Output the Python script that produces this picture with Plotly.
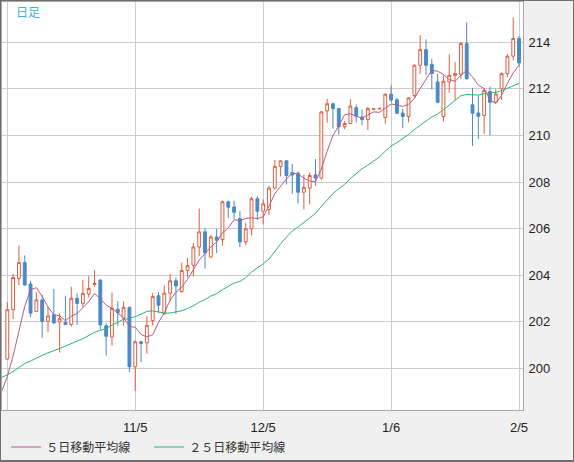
import plotly.graph_objects as go
import pandas as pd

# ---- data (daily candles, index 0 .. 88) ----
opens = [200.40, 202.52, 203.86, 204.54, 203.62, 202.45, 202.94, 202.02, 202.30, 201.99,
         201.98, 201.89, 203.01, 202.79, 203.19, 203.60, 203.79, 201.83, 201.35, 202.54,
         202.16, 202.62, 200.07, 201.14, 201.10, 202.05, 203.12, 202.34, 203.23, 203.76,
         203.30, 204.20, 204.42, 205.21, 205.86, 204.78, 205.64, 205.53, 207.15, 206.93,
         206.43, 205.43, 205.99, 207.28, 206.75, 206.82, 207.74, 208.67, 208.91, 208.40,
         208.38, 207.56, 207.74, 208.31, 208.17, 211.05, 211.36, 211.15, 210.37, 210.51,
         211.19, 210.79, 210.68, 211.12, 211.14, 210.77, 211.77, 211.53, 210.96, 210.81,
         211.71, 213.01, 213.68, 213.05, 212.29, 210.81, 212.29, 212.58, 212.62, 213.94,
         211.31, 210.96, 210.85, 211.88, 211.42, 212.00, 212.65, 213.40, 214.16]

highs = [202.84, 204.07, 205.27, 204.85, 203.76, 203.27, 203.15, 202.66, 203.41, 202.37,
         203.12, 203.50, 203.22, 203.79, 203.96, 204.21, 203.82, 201.94, 203.25, 202.89,
         202.87, 202.65, 201.20, 201.17, 202.24, 203.23, 203.27, 203.56, 204.06, 203.90,
         204.54, 204.75, 205.38, 206.86, 206.03, 205.74, 205.99, 207.20, 207.20, 207.20,
         206.77, 206.24, 207.36, 207.39, 207.25, 207.84, 208.95, 208.95, 208.93, 208.78,
         208.45, 208.31, 208.41, 208.98, 211.05, 211.57, 211.40, 211.18, 210.61, 211.55,
         211.33, 211.11, 211.22, 211.16, 211.18, 211.80, 212.14, 211.61, 211.14, 211.65,
         213.05, 214.30, 214.12, 213.29, 212.65, 212.58, 213.48, 213.15, 214.00, 214.85,
         212.04, 211.71, 212.03, 212.10, 212.00, 212.70, 213.48, 215.06, 214.26]

lows = [200.37, 202.12, 203.58, 203.55, 202.20, 202.42, 201.31, 201.57, 201.92, 200.68,
        201.86, 201.80, 201.87, 202.65, 203.05, 203.50, 201.66, 200.55, 200.98, 201.83,
        201.83, 199.84, 199.04, 200.27, 200.63, 201.84, 202.38, 202.30, 202.88, 202.34,
        203.25, 203.92, 203.95, 204.81, 204.28, 204.75, 204.95, 205.27, 206.46, 206.42,
        205.21, 205.28, 205.71, 206.37, 206.18, 206.58, 207.67, 208.24, 207.89, 207.49,
        207.08, 206.82, 207.04, 207.84, 208.10, 210.55, 210.30, 210.04, 210.27, 210.48,
        210.55, 210.44, 210.23, 211.10, 211.12, 210.50, 211.42, 210.92, 210.32, 210.56,
        211.61, 212.65, 212.58, 211.97, 211.38, 210.60, 211.83, 211.53, 212.43, 212.40,
        209.55, 209.84, 210.06, 210.01, 211.35, 211.52, 212.50, 213.22, 212.96]

closes = [202.52, 203.90, 204.54, 203.58, 202.37, 202.94, 202.02, 202.25, 201.95, 202.13,
          201.88, 203.01, 202.79, 203.22, 203.43, 203.65, 201.87, 201.38, 202.58, 202.40,
          202.62, 200.07, 201.14, 201.07, 201.85, 203.09, 202.71, 203.23, 203.76, 203.54,
          204.20, 204.41, 205.21, 205.86, 204.95, 205.64, 205.50, 207.15, 206.92, 206.70,
          205.43, 205.99, 207.28, 206.75, 207.06, 207.74, 208.67, 208.91, 208.28, 208.30,
          207.56, 207.77, 208.28, 208.17, 211.01, 211.36, 211.15, 210.37, 210.51, 211.26,
          210.82, 210.68, 211.15, 211.14, 211.16, 211.77, 211.52, 210.95, 210.81, 211.61,
          213.01, 213.68, 213.01, 212.65, 211.42, 212.32, 212.58, 212.65, 213.94, 212.43,
          210.95, 210.82, 211.93, 211.42, 211.78, 212.65, 213.40, 214.16, 213.11]

# closes before the visible window (estimated from the moving-average lines)
prior_closes = [199.90, 200.30, 199.90, 199.50, 199.80, 199.60, 199.20, 199.60, 199.90, 199.50,
                199.30, 200.00, 200.50, 200.60, 200.20, 200.05, 199.80, 199.40, 199.10, 199.30,
                199.20, 199.45, 198.89, 198.63, 198.76]

tick_index = [0, 22, 44, 66, 88]
tick_labels = ['', '11/5', '12/5', '1/6', '2/5']
ma_periods = [5, 25]
ma_names = ['５日移動平均線', '２５日移動平均線']
ma_colors = ['#b85a8c', '#2cb371']
title_text = '日足'

UP = '#dc5f3c'
DOWN = '#4a8ac6'

x = list(range(len(closes)))
all_c = pd.Series(prior_closes + closes)
offset = len(prior_closes)

fig = go.Figure()
fig.add_trace(go.Candlestick(
    x=x, open=opens, high=highs, low=lows, close=closes,
    increasing=dict(line=dict(color=UP, width=1), fillcolor='white'),
    decreasing=dict(line=dict(color=DOWN, width=1), fillcolor=DOWN),
    whiskerwidth=0, showlegend=False, hoverinfo='skip'))

for p, name, col in zip(ma_periods, ma_names, ma_colors):
    ma = all_c.rolling(p).mean()
    ks = list(range(offset - 1, len(all_c)))
    fig.add_trace(go.Scatter(
        x=[k - offset for k in ks], y=[ma[k] for k in ks],
        mode='lines', name=name, line=dict(color=col, width=1),
        hoverinfo='skip'))

W, H = 574, 462
ml, mr, mt, mb = 2, 51, 2, 51
pw, ph = W - ml - mr, H - mt - mb

axfont = dict(family='Liberation Sans', size=13, color='#222222')
fig.update_layout(
    width=W, height=H,
    margin=dict(l=ml, r=mr, t=mt, b=mb, pad=0),
    paper_bgcolor='#f0f0f0', plot_bgcolor='white',
    boxgap=0.3,
    xaxis=dict(range=[-0.91, 88.68], tickvals=tick_index, ticktext=tick_labels,
               showgrid=True, gridcolor='#cccccc', gridwidth=1, zeroline=False,
               rangeslider=dict(visible=False), ticks='outside', ticklen=5,
               tickcolor='rgba(0,0,0,0)', tickfont=axfont,
               showline=True, linecolor='#a8a8a8', linewidth=1, mirror=True),
    yaxis=dict(side='right', range=[198.215, 215.725], tick0=200, dtick=2,
               showgrid=True, gridcolor='#cccccc', gridwidth=1, zeroline=False,
               ticks='outside', ticklen=2, tickcolor='rgba(0,0,0,0)', tickfont=axfont,
               showline=True, linecolor='#a8a8a8', linewidth=1, mirror=True),
    showlegend=True,
    legend=dict(orientation='h', x=0.008, y=(411 - 447) / ph, xanchor='left', yanchor='middle',
                font=dict(family='Noto Sans CJK JP', size=12, color='#333333'),
                bgcolor='rgba(0,0,0,0)', itemwidth=30, entrywidth=98),
    annotations=[dict(text=title_text, xref='paper', yref='paper',
                      x=(14 - ml) / pw, y=1 - (12 - mt) / ph, xanchor='left', yanchor='middle',
                      showarrow=False,
                      font=dict(family='Noto Sans CJK JP', size=12, color='#3ab0e6'))],
    shapes=[dict(type='rect', xref='paper', yref='paper',
                 x0=-ml / pw, x1=1 + mr / pw, y0=-mb / ph, y1=1 + mt / ph,
                 line=dict(color='#6e6e6e', width=2), fillcolor='rgba(0,0,0,0)')],
)

fig.write_html('out.html',
               config={'displayModeBar': False, 'staticPlot': True},
               post_script="document.body.style.margin='0';document.body.style.padding='0';")
